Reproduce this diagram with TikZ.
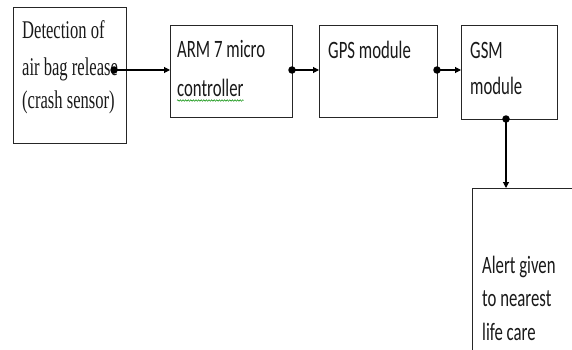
\documentclass[tikz,border=0pt]{standalone}
\usepackage{fontspec}
\usetikzlibrary{arrows.meta,decorations.pathmorphing}
\newfontfamily\boxserif[FakeStretch=0.65]{Liberation Serif}
\newfontfamily\boxsans[FakeStretch=0.67]{Carlito}

\begin{document}
\begin{tikzpicture}[x=1pt,y=-1pt,
  blk/.style={draw=black!85, line width=1pt, anchor=north west, inner sep=0pt},
  lbl/.style={anchor=base west, inner sep=0pt, text=black!90,
              font=\boxsans\fontsize{25}{25}\selectfont},
  slbl/.style={anchor=base west, inner sep=0pt, text=black!90,
              font=\boxserif\fontsize{25.5}{25.5}\selectfont},
  flow/.style={line width=1.1pt, -{Triangle[length=6pt,width=6pt]}},
  tap/.style={circle, fill=black, inner sep=0pt, minimum size=7.5pt}]
\useasboundingbox (0,0) rectangle (572,350);
\clip (0,0) rectangle (572,350);

% blocks
\node[blk, minimum width=113pt, minimum height=136pt] (sensor) at (13,7) {};
\node[blk, minimum width=122pt, minimum height=92pt] (arm) at (170,25) {};
\node[blk, minimum width=118pt, minimum height=92pt] (gps) at (319,25) {};
\node[blk, minimum width=96pt, minimum height=94pt] (gsm) at (461,25) {};
\node[blk, minimum width=130pt, minimum height=190pt] (alert) at (472,188) {};

% labels
\node[slbl] (s1) at (22,39) {Detection of};
\node[slbl] (s2) at (22,76) {air bag release};
\node[slbl] (s3) at (22,108) {(crash sensor)};
\node[lbl] (a1) at (177,58) {ARM 7 micro};
\node[lbl] (a2) at (177,97) {controller};
\node[lbl] (g1) at (328,59) {GPS module};
\node[lbl] (m1) at (470,59) {GSM};
\node[lbl] (m2) at (470,95) {module};
\node[lbl] (l1) at (482,273) {Alert given};
\node[lbl] (l2) at (482,306) {to nearest};
\node[lbl] (l3) at (482,340) {life care};

% spelling squiggle under "controller"
\draw[green!55!black, line width=0.5pt,
      decorate, decoration={snake, segment length=2.6pt, amplitude=0.8pt}]
  ([yshift=-3.5pt]a2.base west) -- ([yshift=-3.5pt]a2.base east);

% connectors with their tap dots
\node[tap] (d1) at (114,70) {};
\node[tap] (d2) at (292,70) {};
\node[tap] (d3) at (437,70) {};
\node[tap] (d4) at (506,119) {};
\draw[flow] (d1.center) -- (d1 -| arm.west);
\draw[flow] (d2.center) -- (d2 -| gps.west);
\draw[flow] (d3.center) -- (d3 -| gsm.west);
\draw[flow] (d4.center) -- (d4 |- alert.north);
\end{tikzpicture}
\end{document}
